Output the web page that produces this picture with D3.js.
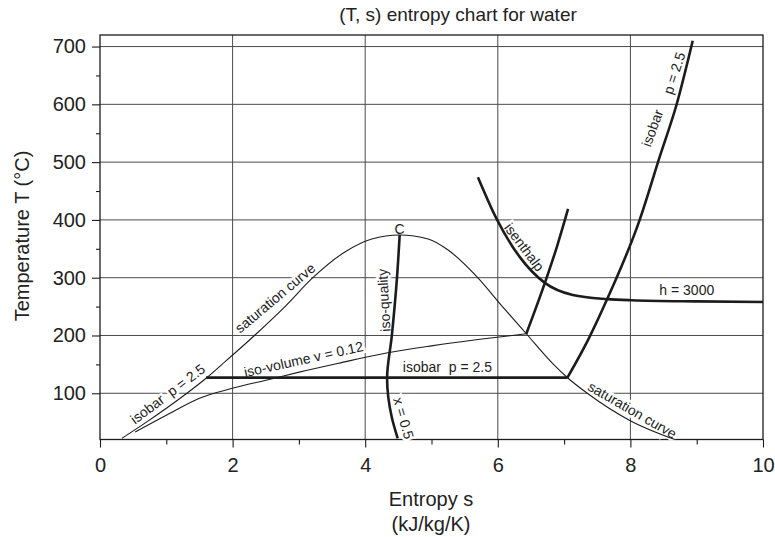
<!DOCTYPE html>
<html>
<head>
<meta charset="utf-8">
<script src="https://cdn.jsdelivr.net/npm/d3@7"></script>
<style>
  html, body { margin: 0; padding: 0; background: #fff; }
  svg { display: block; font-family: "Liberation Sans", Arial, Helvetica, sans-serif; }
  text { fill: #222; }
</style>
</head>
<body>
<svg id="chart" width="775" height="537"></svg>
<script>
// Entropy (kJ/kg/K) and temperature (°C) pairs for each curve on the T-s diagram.
const saturationCurve = [
  [0.33, 22], [0.70, 50], [1.31, 100], [1.60, 126], [1.84, 150], [2.33, 200],
  [2.79, 250], [3.21, 300], [3.70, 345], [4.10, 367], [4.52, 374],
  [4.95, 367], [5.25, 348], [5.69, 301], [6.07, 250], [6.43, 203],
  [6.84, 150], [7.06, 126], [7.35, 100], [7.99, 53], [8.67, 20]
];
const isoVolumeWet = [
  [0.53, 33], [1.00, 62], [1.51, 92], [2.01, 109], [2.52, 123],
  [3.02, 137], [3.60, 152], [4.34, 170], [5.00, 182], [5.70, 193], [6.43, 203]
];
const isoVolumeSuperheated = [
  [6.43, 203], [6.71, 291], [6.89, 353], [7.06, 419]
];
const isoQuality = [
  [4.52, 374], [4.48, 301], [4.40, 198], [4.33, 126], [4.40, 59], [4.49, 22]
];
const isobarWet = [[1.60, 127], [7.05, 127]];
const isobarSuperheated = [
  [7.05, 127], [7.36, 192], [7.65, 263], [8.14, 400], [8.45, 512], [8.70, 601], [8.94, 710]
];
const isenthalp = [
  [5.70, 474], [5.99, 400], [6.33, 336], [6.71, 291], [7.13, 270],
  [7.65, 263], [8.02, 261], [9.00, 259], [10.0, 258]
];

const xTicks = [0, 2, 4, 6, 8, 10];
const xMinorTicks = [1, 3, 5, 7, 9];
const yTicks = [100, 200, 300, 400, 500, 600, 700];
const yMinorTicks = [150, 250, 350, 450, 550, 650];

const svg = d3.select("#chart");
const x = d3.scaleLinear().domain([0, 10]).range([100, 763]);
const y = d3.scaleLinear().domain([20, 720]).range([439.5, 35]);

const gridColor = "#4a4a4a";
const ink = "#1c1c1c";

// grid
const grid = svg.append("g");
grid.selectAll("line.v").data([2, 4, 6, 8]).join("line")
  .attr("x1", d => x(d)).attr("x2", d => x(d))
  .attr("y1", y(20)).attr("y2", y(720))
  .attr("stroke", gridColor).attr("stroke-width", 1);
grid.selectAll("line.h").data(yTicks).join("line")
  .attr("x1", x(0)).attr("x2", x(10))
  .attr("y1", d => y(d)).attr("y2", d => y(d))
  .attr("stroke", gridColor).attr("stroke-width", 1);

// axes with major and minor ticks
const xAxis = svg.append("g").attr("transform", `translate(0,${y(20)})`)
  .call(d3.axisBottom(x).tickValues(xTicks).tickSize(8).tickPadding(10).tickFormat(d3.format("d")));
const xMinor = svg.append("g").attr("transform", `translate(0,${y(20)})`)
  .call(d3.axisBottom(x).tickValues(xMinorTicks).tickSize(5).tickFormat(""));
const yAxis = svg.append("g").attr("transform", `translate(${x(0)},0)`)
  .call(d3.axisLeft(y).tickValues(yTicks).tickSize(8).tickPadding(6).tickFormat(d3.format("d")));
const yMinor = svg.append("g").attr("transform", `translate(${x(0)},0)`)
  .call(d3.axisLeft(y).tickValues(yMinorTicks).tickSize(4).tickFormat(""));
[xAxis, xMinor, yAxis, yMinor].forEach(g => {
  g.select(".domain").remove();
  g.selectAll(".tick line").attr("stroke", ink).attr("stroke-width", 1.1);
  g.selectAll(".tick text").attr("font-size", 20).attr("fill", "#222")
    .attr("font-family", "Liberation Sans, Arial, sans-serif");
});

// frame
svg.append("rect")
  .attr("x", x(0)).attr("y", y(720))
  .attr("width", x(10) - x(0)).attr("height", y(20) - y(720))
  .attr("fill", "none").attr("stroke", ink).attr("stroke-width", 1.3);

// curve labels (white halo hides the grid behind them)
const labels = svg.append("g").attr("font-size", 14);
function label(txt, s, t, angle) {
  labels.append("text")
    .attr("transform", `translate(${x(s)},${y(t)}) rotate(${angle})`)
    .attr("text-anchor", "middle")
    .attr("dominant-baseline", "central")
    .attr("stroke", "#fff").attr("stroke-width", 5)
    .attr("paint-order", "stroke")
    .style("white-space", "pre")
    .text(txt);
}
label("isobar  p = 2.5", 1.02, 99, -37);
label("saturation curve", 2.64, 265, -40);
label("iso-volume v = 0.12", 3.07, 159, -12.5);
label("isobar  p = 2.5", 5.24, 145, 0);
label("iso-quality", 4.28, 261, -93);
label("x = 0.5", 4.58, 57, 74);
label("C", 4.52, 384, 0);
label("isenthalp", 6.40, 353, 53);
label("h = 3000", 8.85, 279, 0);
label("isobar", 8.33, 559, -70);
label("p = 2.5", 8.66, 654, -72);
label("saturation curve", 8.03, 71, 30);

// curves
const lineX = d3.line().x(d => x(d[0])).y(d => y(d[1])).curve(d3.curveMonotoneX);
const lineY = d3.line().x(d => x(d[0])).y(d => y(d[1])).curve(d3.curveMonotoneY);
const curves = svg.append("g").attr("fill", "none").attr("stroke", ink)
  .attr("stroke-linejoin", "round");
curves.append("path").attr("d", lineX(saturationCurve)).attr("stroke-width", 1.1);
curves.append("path").attr("d", lineX(isoVolumeWet)).attr("stroke-width", 1.1);
curves.append("path").attr("d", lineX(isoVolumeSuperheated)).attr("stroke-width", 2.6);
curves.append("path").attr("d", lineY(isoQuality)).attr("stroke-width", 2.6);
curves.append("path").attr("d", lineX(isobarWet)).attr("stroke-width", 2.6);
curves.append("path").attr("d", lineX(isobarSuperheated)).attr("stroke-width", 2.6);
curves.append("path").attr("d", lineX(isenthalp)).attr("stroke-width", 2.6);

// titles
svg.append("text").attr("x", 458).attr("y", 21).attr("text-anchor", "middle")
  .attr("font-size", 19).text("(T, s) entropy chart for water");
svg.append("text").attr("x", 431).attr("y", 506).attr("text-anchor", "middle")
  .attr("font-size", 20).text("Entropy s");
svg.append("text").attr("x", 431).attr("y", 531).attr("text-anchor", "middle")
  .attr("font-size", 20).text("(kJ/kg/K)");
svg.append("text").attr("transform", "translate(29,236) rotate(-90)")
  .attr("text-anchor", "middle").attr("font-size", 20).text("Temperature T (°C)");
</script>
</body>
</html>
